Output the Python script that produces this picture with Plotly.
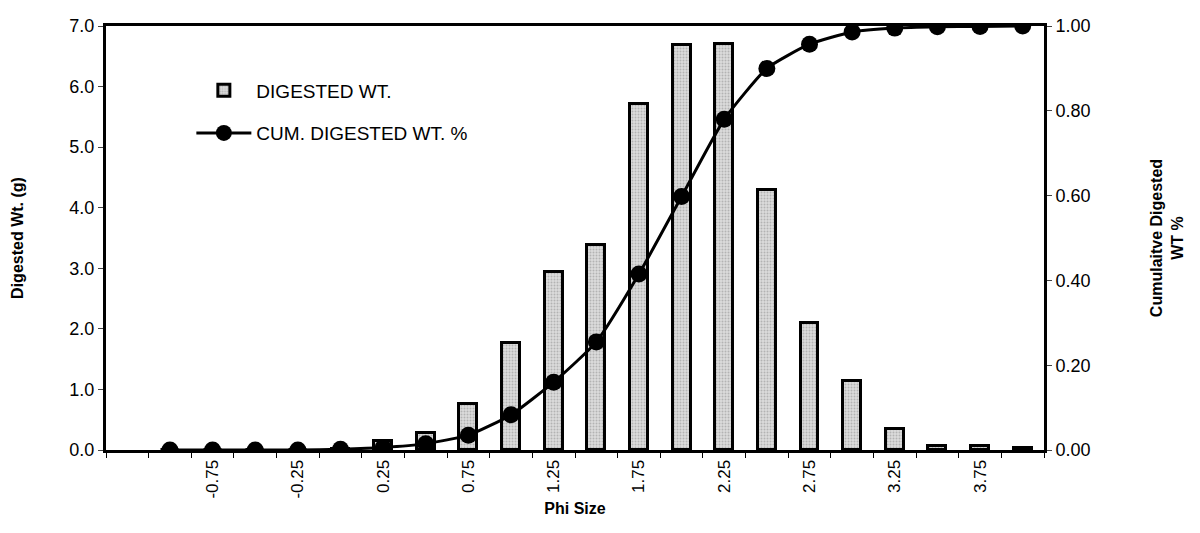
import plotly.graph_objects as go

phi = [-1.00, -0.75, -0.50, -0.25, 0.00, 0.25, 0.50, 0.75, 1.00, 1.25, 1.50,
       1.75, 2.00, 2.25, 2.50, 2.75, 3.00, 3.25, 3.50, 3.75, 4.00]
digested_wt = [0.0, 0.0, 0.0, 0.0, 0.02, 0.15, 0.28, 0.76, 1.77, 2.94, 3.39,
               5.72, 6.69, 6.71, 4.30, 2.10, 1.14, 0.35, 0.06, 0.06, 0.04]
cum_digested = [0.0, 0.0, 0.0, 0.0, 0.002, 0.006, 0.015, 0.035, 0.083, 0.16, 0.255,
                0.415, 0.598, 0.78, 0.90, 0.957, 0.986, 0.995, 0.998, 0.999, 1.0]
tick_labels = ["-0.75", "-0.25", "0.25", "0.75", "1.25", "1.75", "2.25", "2.75", "3.25", "3.75"]
tick_vals = [float(t) for t in tick_labels]

FONT = "Liberation Sans, Arial, sans-serif"

fig = go.Figure()
fig.add_trace(go.Bar(
    x=phi, y=digested_wt, name="DIGESTED WT.", width=0.105,
    marker=dict(color="#cfcfcf", line=dict(color="black", width=3),
                pattern=dict(shape=".", fgcolor="#8a8a8a", bgcolor="#dcdcdc", size=3, solidity=0.35)),
    yaxis="y", legendgroup="a",
))
fig.add_trace(go.Scatter(
    x=phi, y=cum_digested, name="CUM. DIGESTED WT. %", mode="lines+markers",
    line=dict(color="black", width=3, shape="spline", smoothing=0.5),
    marker=dict(color="black", size=17),
    yaxis="y2", legendgroup="b",
))

fig.update_layout(
    width=1200, height=533,
    margin=dict(l=98, r=164, t=18, b=91),
    paper_bgcolor="white", plot_bgcolor="white",
    font=dict(family=FONT, color="black", size=16),
    showlegend=True,
    legend=dict(x=0.091, y=0.893, xanchor="left", yanchor="top", bgcolor="rgba(0,0,0,0)",
                font=dict(size=19, family=FONT), itemwidth=55, tracegroupgap=15,
                traceorder="grouped"),
    bargap=0,
    xaxis=dict(
        range=[-1.375, 4.125], tickmode="array", tickvals=tick_vals, ticktext=tick_labels,
        tickangle=-90, ticks="", showgrid=False, zeroline=False, automargin=False,
        showline=True, linecolor="black", linewidth=3, mirror=True,
        tickfont=dict(size=17, family=FONT),
        minor=dict(tick0=-1.375, dtick=0.25, ticks="outside", ticklen=5, tickcolor="black", tickwidth=1, showgrid=False),
        title=dict(text="<b>Phi Size</b>", font=dict(size=16, family=FONT), standoff=6),
    ),
    yaxis=dict(
        range=[0, 7], dtick=1, tickformat=".1f", ticks="outside", ticklen=5, tickwidth=1,
        showgrid=False, zeroline=False, showline=True, linecolor="black", linewidth=3,
        automargin=False, tickfont=dict(size=18, family=FONT),
        title=dict(text="<b>Digested Wt. (g)</b>", font=dict(size=16, family=FONT), standoff=42),
    ),
    yaxis2=dict(
        range=[0, 1.0], dtick=0.2, tickformat=".2f", ticks="outside", ticklen=5, tickwidth=1,
        overlaying="y", side="right", anchor="x", automargin=False,
        showgrid=False, zeroline=False, showline=True, linecolor="black", linewidth=3,
        tickfont=dict(size=18, family=FONT),
        title=dict(text="<b>Cumulaitve Digested<br>WT %</b>", font=dict(size=16, family=FONT), standoff=62),
    ),
)

fig.write_html("out.html")
